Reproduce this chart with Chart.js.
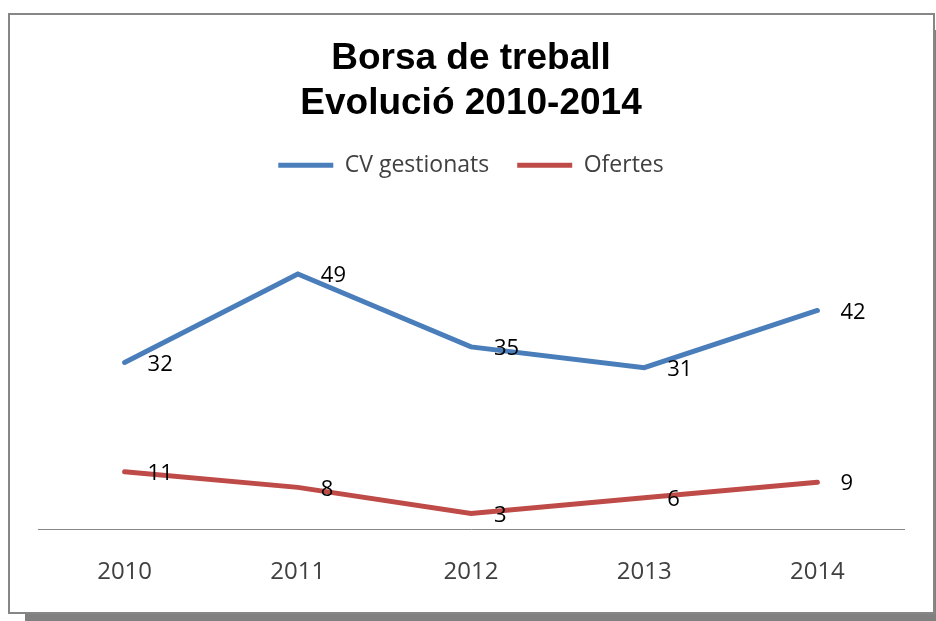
<!DOCTYPE html>
<html>
<head>
<meta charset="utf-8">
<title>Borsa de treball</title>
<script src="https://cdn.jsdelivr.net/npm/chart.js"></script>
<style>
  body { margin: 0; background: #fff; }
  #wrap { position: relative; width: 936px; height: 621px; overflow: hidden; }
  .frame { position: absolute; left: 8px; top: 13px; width: 923px; height: 597px;
           border: 2px solid #868686; background: #fff; }
  .shadowB { position: absolute; left: 25px; top: 614px; width: 911px; height: 7px; background: #808080; }
  .shadowR { position: absolute; left: 934px; top: 30px; width: 2px; height: 591px; background: #808080; }
  canvas { position: absolute; left: 0; top: 0; }
</style>
</head>
<body>
<div id="wrap">
  <div class="shadowB"></div>
  <div class="shadowR"></div>
  <div class="frame"></div>
  <canvas id="chart" width="936" height="621"></canvas>
</div>
<script>
const years = ["2010", "2011", "2012", "2013", "2014"];
const cvGestionats = [32, 49, 35, 31, 42];
const ofertes = [11, 8, 3, 6, 9];
const titleLines = ["Borsa de treball", "Evolució 2010-2014"];

const labelFont = "Open Sans";

// value labels to the right of each point, like Excel's "right" position
const valueLabels = {
    id: "valueLabels",
    afterDatasetsDraw(chart) {
        const ctx = chart.ctx;
        ctx.save();
        ctx.font = "22px '" + labelFont + "'";
        ctx.fillStyle = "#000";
        ctx.textAlign = "left";
        ctx.textBaseline = "middle";
        chart.data.datasets.forEach((ds, i) => {
            const meta = chart.getDatasetMeta(i);
            meta.data.forEach((pt, j) => {
                ctx.fillText(String(ds.data[j]), pt.x + 23, pt.y + 2);
            });
        });
        ctx.restore();
    }
};

new Chart(document.getElementById("chart"), {
    type: "line",
    data: {
        labels: years,
        datasets: [{
            label: "CV gestionats",
            data: cvGestionats,
            borderColor: "#4a7ebb",
            backgroundColor: "#4a7ebb",
            borderWidth: 5,
            borderCapStyle: "round",
            pointRadius: 0,
            tension: 0
        }, {
            label: "Ofertes",
            data: ofertes,
            borderColor: "#be4b48",
            backgroundColor: "#be4b48",
            borderWidth: 5,
            borderCapStyle: "round",
            pointRadius: 0,
            tension: 0
        }]
    },
    options: {
        responsive: false,
        animation: false,
        layout: { padding: { left: 38, right: 32, top: 0, bottom: 0 } },
        plugins: {
            title: {
                display: true,
                text: titleLines,
                color: "#000",
                font: { family: "Liberation Sans", size: 37, weight: "bold", lineHeight: 1.2 },
                padding: { top: 37, bottom: 0 }
            },
            legend: {
                display: true,
                position: "top",
                labels: {
                    usePointStyle: true,
                    pointStyle: "line",
                    pointStyleWidth: 55,
                    padding: 28,
                    color: "#404040",
                    font: { family: labelFont, size: 23 }
                }
            },
            tooltip: { enabled: false }
        },
        scales: {
            x: {
                position: "bottom",
                offset: true,
                grid: { display: false, drawTicks: false },
                border: { display: true, color: "#888", width: 1 },
                ticks: { color: "#404040", padding: 29, font: { family: labelFont, size: 24 } },
                afterFit(scale) { scale.height = 92; }
            },
            gap: {
                type: "category",
                position: "top",
                grid: { display: false, drawTicks: false },
                border: { display: false },
                ticks: { display: false },
                afterFit(scale) { scale.height = 30; }
            },
            y: {
                display: false,
                min: 0,
                max: 60
            }
        }
    },
    plugins: [valueLabels]
});
</script>
</body>
</html>
